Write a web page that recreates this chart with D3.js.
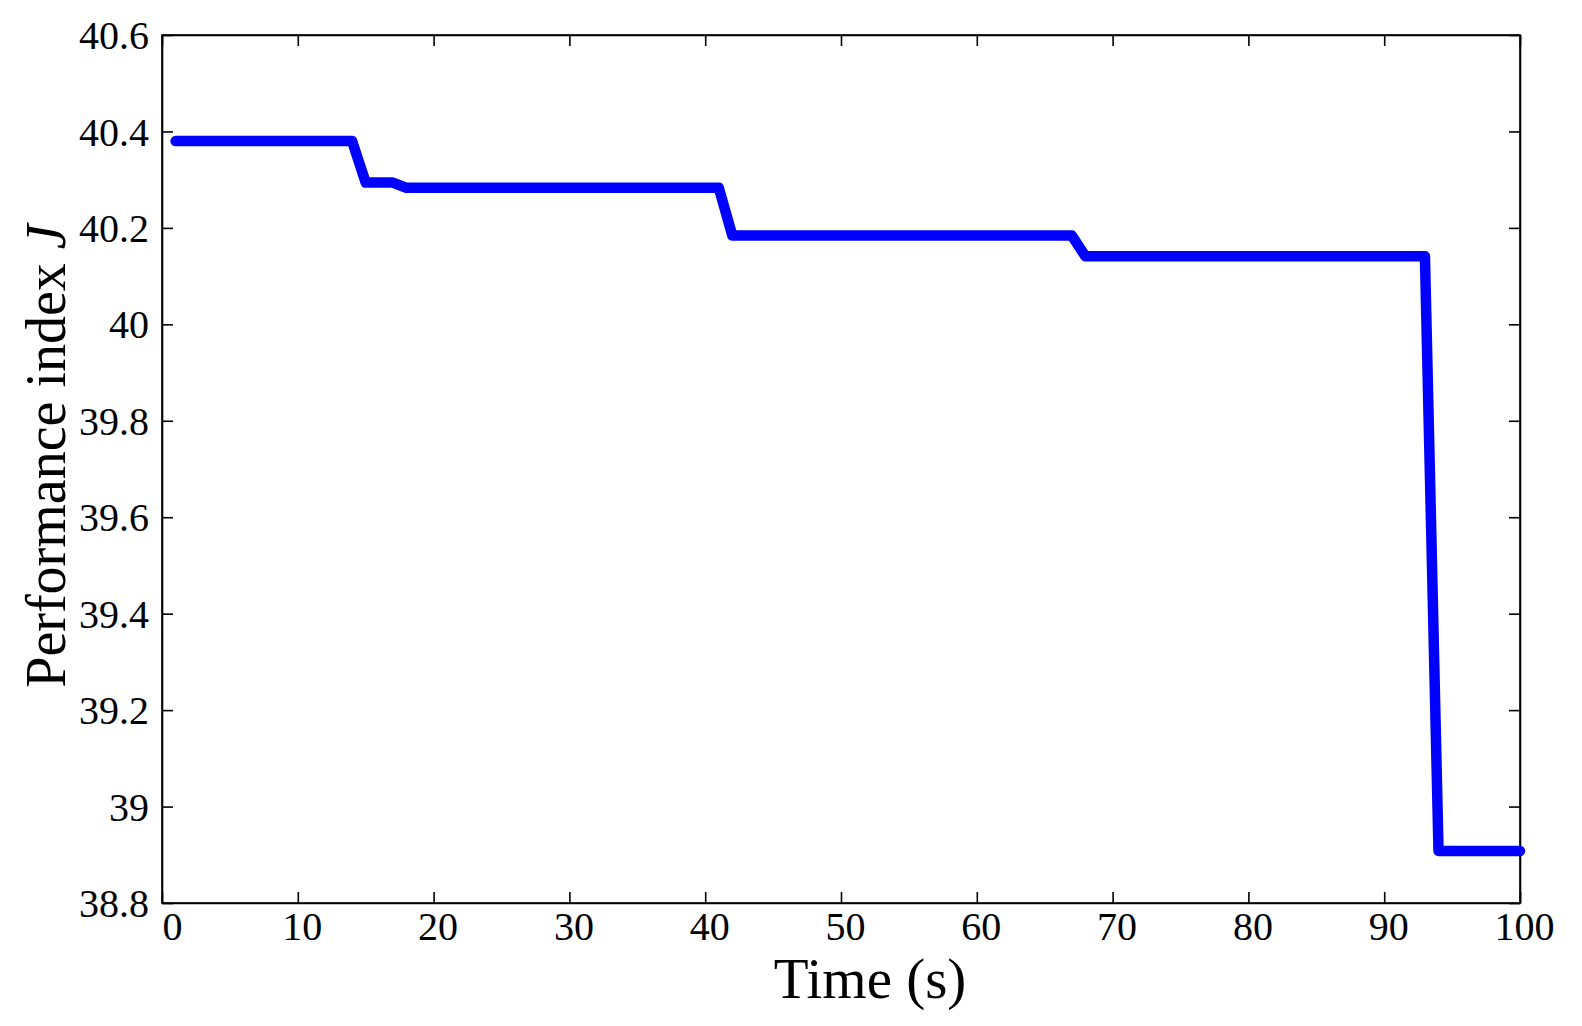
<!DOCTYPE html>
<html>
<head>
<meta charset="utf-8">
<script src="https://cdn.jsdelivr.net/npm/d3@7"></script>
<style>
  body { margin: 0; background: #fff; }
  text { font-family: "Liberation Serif", "Times New Roman", serif; fill: #000; }
</style>
</head>
<body>
<div class="graph"></div>
<script>
// breakpoints of the performance index curve
const times  = [1, 14, 15, 17, 18, 41, 42, 67, 68, 93, 94, 100];
const values = [40.38, 40.38, 40.294, 40.294, 40.283, 40.283, 40.184, 40.184, 40.141, 40.141, 38.908, 38.908];
const xTicks = [0, 10, 20, 30, 40, 50, 60, 70, 80, 90, 100];
const yTicks = [38.8, 39, 39.2, 39.4, 39.6, 39.8, 40, 40.2, 40.4, 40.6];

// plot box in page pixels
var margin = {top: 35, right: 62, bottom: 123, left: 162},
    W = 1582, H = 1026,
    width = W - margin.left - margin.right,
    height = H - margin.top - margin.bottom;

var svg = d3.select(".graph")
  .append("svg")
    .attr("width", W)
    .attr("height", H)
  .append("g")
    .attr("transform", "translate(" + margin.left + "," + margin.top + ")");

var x = d3.scaleLinear().domain([0, 100]).range([0, width]);
var y = d3.scaleLinear().domain([38.8, 40.6]).range([height, 0]);

const tickLen = 11;

// bottom axis (ticks point inward)
var xAxis = svg.append("g")
  .attr("transform", "translate(0," + height + ")")
  .call(d3.axisBottom(x).tickValues(xTicks).tickSizeInner(-tickLen).tickSizeOuter(0)
        .tickFormat(d3.format("d")).tickPadding(9));
xAxis.selectAll("text")
  .attr("font-size", 40)
  .attr("dx", function(d) { return d == 0 ? 10 : 4; });

// top axis, ticks only
svg.append("g")
  .call(d3.axisTop(x).tickValues(xTicks).tickSizeInner(-tickLen).tickSizeOuter(0).tickFormat(""));

// left axis
var yAxis = svg.append("g")
  .call(d3.axisLeft(y).tickValues(yTicks).tickSizeInner(-tickLen).tickSizeOuter(0)
        .tickFormat(function(d) { return d3.format("")(+d.toFixed(1)); }).tickPadding(13));
yAxis.selectAll("text").attr("font-size", 40).attr("dy", "0.34em");

// right axis, ticks only
svg.append("g")
  .attr("transform", "translate(" + width + ",0)")
  .call(d3.axisRight(y).tickValues(yTicks).tickSizeInner(-tickLen).tickSizeOuter(0).tickFormat(""));

svg.selectAll(".domain").attr("stroke", "#000").attr("stroke-width", 1.6);
svg.selectAll(".tick line").attr("stroke", "#000").attr("stroke-width", 1.6);

// box
svg.append("rect")
  .attr("width", width).attr("height", height)
  .attr("fill", "none").attr("stroke", "#000").attr("stroke-width", 1.6);

// curve
var data = times.map(function(t, i) { return {t: t, v: values[i]}; });
svg.append("path")
  .datum(data)
  .attr("fill", "none")
  .attr("stroke", "#0000ff")
  .attr("stroke-width", 10.5)
  .attr("stroke-linecap", "round")
  .attr("stroke-linejoin", "round")
  .attr("d", d3.line()
    .x(function(d) { return x(d.t); })
    .y(function(d) { return y(d.v); }));

// axis labels
svg.append("text")
  .attr("x", 708).attr("y", height + 95)
  .attr("text-anchor", "middle")
  .attr("font-size", 57)
  .text("Time (s)");

var yl = svg.append("text")
  .attr("transform", "translate(-97," + (height / 2 - 13) + ") rotate(-90)")
  .attr("text-anchor", "middle")
  .attr("font-size", 56);
yl.append("tspan").text("Performance index ");
yl.append("tspan").attr("font-style", "italic").text("J");
</script>
</body>
</html>
